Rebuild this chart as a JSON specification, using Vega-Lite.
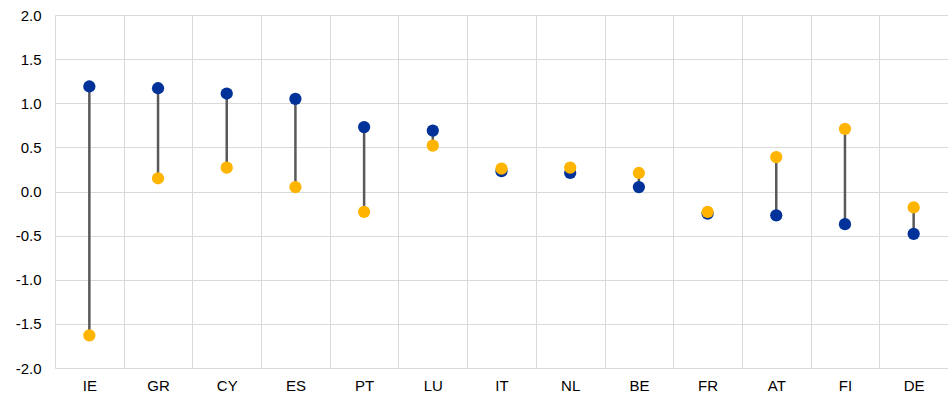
{
  "$schema": "https://vega.github.io/schema/vega-lite/v6.json",
  "autosize": "none",
  "width": 893,
  "height": 353,
  "padding": {"left": 55, "top": 15, "right": 0, "bottom": 28},
  "background": "white",
  "config": {
    "view": {"stroke": null},
    "axis": {"labelFont": "Liberation Sans", "labelFontSize": 15, "labelColor": "#000000", "gridColor": "#d9d9d9", "gridWidth": 1, "domain": false, "ticks": false, "title": null}
  },
  "data": {
    "values": [
      {"country": "IE", "blue": 1.19, "orange": -1.63},
      {"country": "GR", "blue": 1.17, "orange": 0.15},
      {"country": "CY", "blue": 1.11, "orange": 0.27},
      {"country": "ES", "blue": 1.05, "orange": 0.05},
      {"country": "PT", "blue": 0.73, "orange": -0.23},
      {"country": "LU", "blue": 0.69, "orange": 0.52},
      {"country": "IT", "blue": 0.23, "orange": 0.26},
      {"country": "NL", "blue": 0.21, "orange": 0.27},
      {"country": "BE", "blue": 0.05, "orange": 0.21},
      {"country": "FR", "blue": -0.25, "orange": -0.23},
      {"country": "AT", "blue": -0.27, "orange": 0.39},
      {"country": "FI", "blue": -0.37, "orange": 0.71},
      {"country": "DE", "blue": -0.48, "orange": -0.18}
    ]
  },
  "encoding": {
    "x": {
      "field": "country", "type": "nominal", "sort": null,
      "scale": {"paddingInner": 0, "paddingOuter": 0},
      "axis": {"labelAngle": 0, "labelPadding": 10, "grid": true, "tickBand": "extent"}
    }
  },
  "layer": [
    {
      "mark": {"type": "rule", "color": "#595959", "strokeWidth": 2.5},
      "encoding": {
        "y": {"field": "blue", "type": "quantitative", "scale": {"domain": [-2, 2], "nice": false},
          "axis": {"values": [-2, -1.5, -1, -0.5, 0, 0.5, 1, 1.5, 2], "format": ".1f", "labelExpr": "replace(datum.label, '\u2212', '-')", "labelPadding": 14, "grid": true}},
        "y2": {"field": "orange"}
      }
    },
    {
      "mark": {"type": "circle", "color": "#003299", "size": 150, "opacity": 1},
      "encoding": {"y": {"field": "blue", "type": "quantitative"}}
    },
    {
      "mark": {"type": "circle", "color": "#FFB400", "size": 150, "opacity": 1},
      "encoding": {"y": {"field": "orange", "type": "quantitative"}}
    }
  ]
}
